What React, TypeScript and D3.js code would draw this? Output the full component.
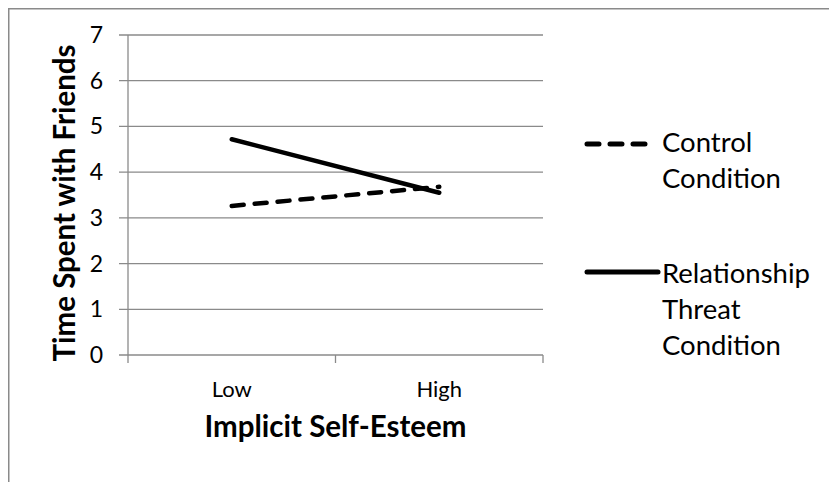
import React, { useEffect } from 'react';
import * as d3 from 'd3';

// Chart data
const categories = ['Low', 'High'];
const controlValues = [3.26, 3.68];
const threatValues = [4.72, 3.55];
const yTicks = [0, 1, 2, 3, 4, 5, 6, 7];

const seriesNames = ['Control Condition', 'Relationship Threat Condition'];
const legendLines = [['Control', 'Condition'], ['Relationship', 'Threat', 'Condition']];

const FONT = 'Lato, "Open Sans", sans-serif';
const GRID = '#8a8a8a';

const App: React.FC = () => {
    useEffect(() => {
        document.body.style.overflow = 'hidden';
        document.documentElement.style.overflow = 'hidden';
    }, []);

    const width = 829;
    const height = 474;
    const plot = { left: 120, right: 535, top: 27, bottom: 347 };

    const xScale = d3.scaleBand<string>().domain(categories).range([plot.left, plot.right]);
    const yScale = d3.scaleLinear().domain([0, 7]).range([plot.bottom, plot.top]);
    const xCenter = (c: string) => (xScale(c) ?? 0) + xScale.bandwidth() / 2;

    const line = d3
        .line<number>()
        .x((_, i) => xCenter(categories[i]))
        .y((d) => yScale(d));

    // category boundaries get tick marks
    const xBoundaries = [plot.left, ...categories.map((c) => (xScale(c) ?? 0) + xScale.bandwidth())];

    return (
        <svg width={width} height={height} style={{ display: 'block', fontFamily: FONT }}>
            <rect x={0.75} y={0.75} width={width + 20} height={height + 20} fill="#fff" stroke={GRID} strokeWidth={1.5} />

            {/* gridlines */}
            {yTicks.map((t) => (
                <line key={t} x1={plot.left - 9} x2={plot.right} y1={yScale(t)} y2={yScale(t)} stroke={GRID} strokeWidth={1.3} />
            ))}
            {/* y axis */}
            <line x1={plot.left} x2={plot.left} y1={plot.top} y2={plot.bottom} stroke={GRID} strokeWidth={1.3} />
            {xBoundaries.map((x, i) => (
                <line key={i} x1={x} x2={x} y1={plot.bottom} y2={plot.bottom + 8} stroke={GRID} strokeWidth={1.3} />
            ))}

            {/* y tick labels */}
            {yTicks.map((t) => (
                <text key={t} x={plot.left - 25} y={yScale(t)} dy="0.35em" textAnchor="end" fontSize={23} fill="#000">
                    {t}
                </text>
            ))}
            {/* x tick labels */}
            {categories.map((c) => (
                <text key={c} x={xCenter(c)} y={389} textAnchor="middle" fontSize={22} fill="#000">
                    {c}
                </text>
            ))}

            {/* axis titles */}
            <text x={(plot.left + plot.right) / 2} y={429} textAnchor="middle" fontSize={29.5} fontWeight="bold">
                Implicit Self-Esteem
            </text>
            <text
                transform={`translate(67, ${(plot.top + plot.bottom) / 2 + 8}) rotate(-90)`}
                textAnchor="middle"
                fontSize={29.5}
                fontWeight="bold"
            >
                Time Spent with Friends
            </text>

            {/* series */}
            <path d={line(controlValues) ?? ''} fill="none" stroke="#000" strokeWidth={4.5} strokeDasharray="12,11" strokeLinecap="round" />
            <path d={line(threatValues) ?? ''} fill="none" stroke="#000" strokeWidth={4.5} strokeLinecap="round" />

            {/* legend */}
            <g aria-label={seriesNames.join(', ')}>
                <line x1={579} x2={639} y1={136} y2={136} stroke="#000" strokeWidth={5} strokeDasharray="12,11" strokeLinecap="round" />
                <line x1={579} x2={650} y1={264} y2={264} stroke="#000" strokeWidth={5} strokeLinecap="round" />
                {legendLines[0].map((s, i) => (
                    <text key={s} x={654} y={144 + i * 36} fontSize={27.5}>
                        {s}
                    </text>
                ))}
                {legendLines[1].map((s, i) => (
                    <text key={s} x={654} y={275 + i * 36} fontSize={27.5}>
                        {s}
                    </text>
                ))}
            </g>
        </svg>
    );
};

export default App;
